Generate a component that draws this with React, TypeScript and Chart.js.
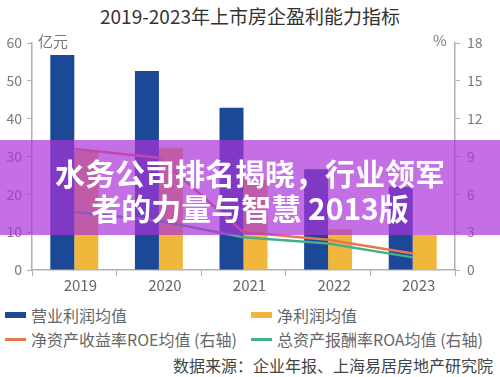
import React, { useEffect, useRef } from "react";
import { Chart, registerables } from "chart.js";

Chart.register(...registerables);

const categories = ["2019", "2020", "2021", "2022", "2023"];
const operatingProfit = [56.8, 52.6, 42.9, 26.6, 22.0];
const netProfit = [31.5, 32.3, 23.8, 10.7, 9.3];
const roe = [9.6, 8.9, 3.0, 2.4, 1.3];
const roa = [4.6, 3.9, 2.6, 2.1, 1.0];
const leftTicks = [0, 10, 20, 30, 40, 50, 60];
const rightTicks = [0, 3, 6, 9, 12, 15, 18];

const titleText = "2019-2023年上市房企盈利能力指标";
const legendLabels = ["营业利润均值", "净利润均值", "净资产收益率ROE均值 (右轴)", "总资产报酬率ROA均值 (右轴)"];
const sourceText = "数据来源：企业年报、上海易居房地产研究院";
const overlayLines = ["水务公司排名揭晓，行业领军", "者的力量与智慧 2013版"];

const FONT = '"Noto Sans CJK SC", "Noto Sans", sans-serif';
const BLUE = "#1b4897";
const YELLOW = "#f0b73c";
const ORANGE = "#e8784c";
const TEAL = "#45ae8c";
const AXIS = "#b0b0b0";
const TICK_TXT = "#7a7a7a";

export default function App() {
  const ref = useRef<HTMLCanvasElement | null>(null);

  useEffect(() => {
    if (!ref.current) return;
    const chart = new Chart(ref.current, {
      data: {
        labels: categories,
        datasets: [
          { type: "line", label: legendLabels[2], data: roe, yAxisID: "y1", borderColor: ORANGE, borderWidth: 2.5, pointRadius: 0, tension: 0, order: 0 },
          { type: "line", label: legendLabels[3], data: roa, yAxisID: "y1", borderColor: TEAL, borderWidth: 2.5, pointRadius: 0, tension: 0, order: 0 },
          { type: "bar", label: legendLabels[0], data: operatingProfit, yAxisID: "y", backgroundColor: BLUE, barPercentage: 1, categoryPercentage: 0.567, order: 1 },
          { type: "bar", label: legendLabels[1], data: netProfit, yAxisID: "y", backgroundColor: YELLOW, barPercentage: 1, categoryPercentage: 0.567, order: 1 },
        ],
      } as any,
      options: {
        animation: false,
        responsive: true,
        maintainAspectRatio: false,
        layout: { padding: { top: 43, left: 0, right: 0, bottom: 0 } },
        plugins: { legend: { display: false }, title: { display: false }, tooltip: { enabled: false } },
        scales: {
          x: {
            grid: { display: true, drawOnChartArea: false, drawTicks: true, tickLength: 6, color: AXIS, offset: true },
            border: { display: true, color: AXIS, width: 1.5 },
            ticks: { color: "#666", font: { family: FONT, size: 15 }, padding: 0, labelOffset: 6 },
            afterFit: (s: any) => { s.height = 30; },
          },
          y: {
            position: "left",
            min: leftTicks[0],
            max: leftTicks[leftTicks.length - 1],
            grid: { display: true, drawOnChartArea: false, drawTicks: true, tickLength: 5, color: AXIS },
            border: { display: true, color: AXIS, width: 1.5 },
            ticks: { stepSize: leftTicks[1] - leftTicks[0], color: TICK_TXT, font: { family: FONT, size: 14 }, padding: 5 },
            afterFit: (s: any) => { s.width = 32; },
          },
          y1: {
            position: "right",
            min: rightTicks[0],
            max: rightTicks[rightTicks.length - 1],
            grid: { display: true, drawOnChartArea: false, drawTicks: true, tickLength: 5, color: AXIS },
            border: { display: true, color: AXIS, width: 1.5 },
            ticks: { stepSize: rightTicks[1] - rightTicks[0], color: TICK_TXT, font: { family: FONT, size: 14 }, padding: 7 },
            afterFit: (s: any) => { s.width = 45; },
          },
        },
      } as any,
    });
    return () => chart.destroy();
  }, []);

  const swatchRect = (color: string) => (
    <span style={{ position: "absolute", left: 0, top: 7, width: 21, height: 6, background: color }} />
  );
  const swatchLine = (color: string) => (
    <span style={{ position: "absolute", left: 0, top: 8.5, width: 21, height: 3, background: color }} />
  );
  const legendItem = (left: number, top: number, label: string, sw: React.ReactNode) => (
    <div style={{ position: "absolute", left, top, height: 20, lineHeight: "20px", fontSize: 16, color: "#666", whiteSpace: "nowrap", paddingLeft: 26 }}>
      {sw}
      {label}
    </div>
  );

  return (
    <div style={{ position: "absolute", left: 0, top: 0, width: 500, height: 377, background: "#fff", fontFamily: FONT, overflow: "hidden" }}>
      <div style={{ position: "absolute", left: 0, top: 3, width: 500, textAlign: "center", fontSize: 19, lineHeight: "25px", color: "#333" }}>
        {titleText}
      </div>
      <div style={{ position: "absolute", left: 0, top: 0, width: 500, height: 300 }}>
        <canvas ref={ref} />
      </div>
      <div style={{ position: "absolute", left: 38, top: 31, fontSize: 15, lineHeight: "20px", color: TICK_TXT }}>亿元</div>
      <div style={{ position: "absolute", left: 433, top: 30, fontSize: 15, lineHeight: "20px", color: TICK_TXT }}>%</div>

      {legendItem(5, 305, legendLabels[0], swatchRect(BLUE))}
      {legendItem(251, 305, legendLabels[1], swatchRect(YELLOW))}
      {legendItem(5, 329, legendLabels[2], swatchLine(ORANGE))}
      {legendItem(251, 329, legendLabels[3], swatchLine(TEAL))}
      <div style={{ position: "absolute", right: 7, top: 355, fontSize: 16, lineHeight: "21px", color: "#444", whiteSpace: "nowrap" }}>
        {sourceText}
      </div>

      <div style={{ position: "absolute", left: 0, top: 140, width: 500, height: 95, background: "rgba(171,51,216,0.7)", color: "#fff", fontWeight: 700, fontSize: 30, lineHeight: "35px", textAlign: "center", paddingTop: 15, boxSizing: "border-box", whiteSpace: "nowrap" }}>
        <div>{overlayLines[0]}</div>
        <div>{overlayLines[1]}</div>
      </div>
    </div>
  );
}
